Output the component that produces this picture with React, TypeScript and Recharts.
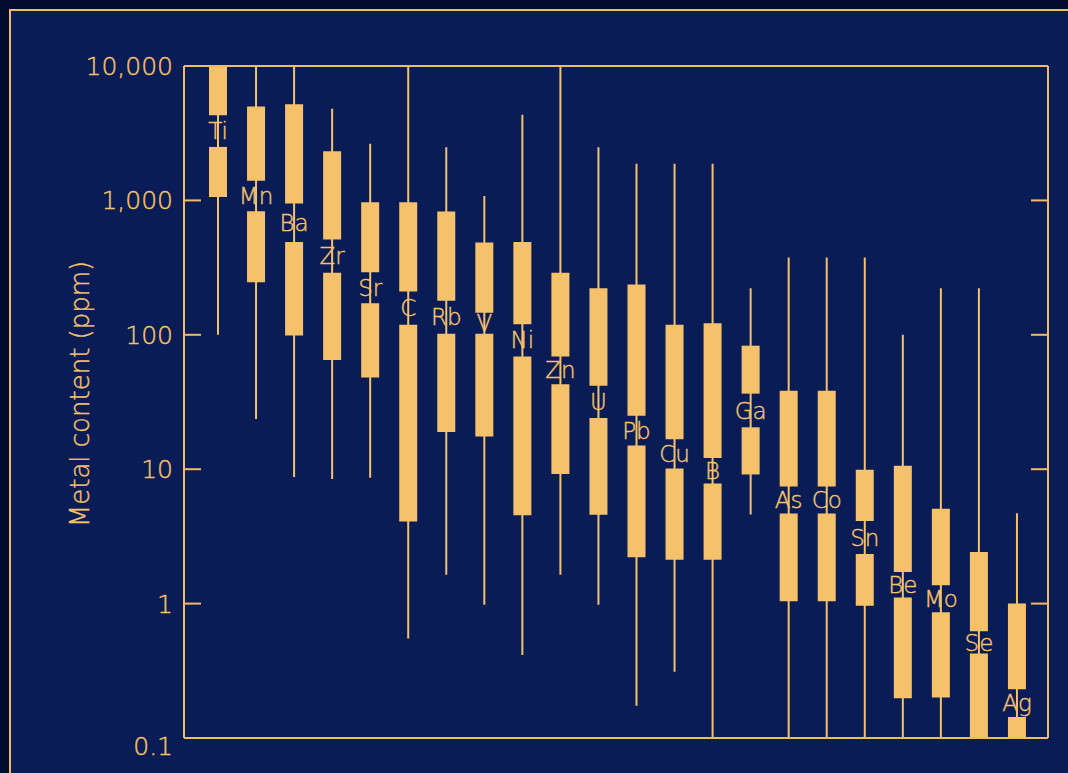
import React from 'react';
import { ComposedChart, Bar, XAxis, YAxis, LabelList, ReferenceLine } from 'recharts';

// metal content ranges (ppm)
const elements = ['Ti', 'Mn', 'Ba', 'Zr', 'Sr', 'C', 'Rb', 'V', 'Ni', 'Zn', 'U', 'Pb', 'Cu', 'B', 'Ga', 'As', 'Co', 'Sn', 'Be', 'Mo', 'Se', 'Ag'];
const rangeMax = [10000, 10000, 10000, 4800, 2640, 10000, 2490, 1080, 4330, 10000, 2490, 1870, 1870, 1870, 222, 376, 376, 376, 100, 222, 222, 4.7];
const boxHigh = [10000, 5000, 5200, 2320, 970, 970, 826, 486, 490, 289, 222, 237, 119, 122, 83, 38.4, 38.4, 9.9, 10.6, 5.07, 2.42, 1.0];
const splitHigh = [4300, 1400, 950, 511, 292, 210, 179, 146, 120, 69, 41.7, 25, 16.7, 12.1, 36.5, 7.42, 7.42, 4.11, 1.72, 1.37, 0.624, 0.231];
const splitLow = [2500, 830, 491, 289, 172, 119, 102, 102, 69, 42.9, 24, 15, 10.1, 7.82, 20.5, 4.68, 4.68, 2.34, 1.11, 0.862, 0.425, 0.143];
const boxLow = [1060, 246, 99, 65, 48.2, 4.09, 18.9, 17.5, 4.55, 9.23, 4.58, 2.21, 2.12, 2.12, 9.14, 1.04, 1.04, 0.965, 0.198, 0.2, 0.1, 0.1];
const rangeMin = [100, 23.6, 8.75, 8.44, 8.65, 0.55, 1.64, 0.98, 0.415, 1.64, 0.98, 0.174, 0.311, 0.1, 4.6, 0.1, 0.1, 0.1, 0.1, 0.1, 0.1, 0.1];

const yTicks = [0.1, 1, 10, 100, 1000, 10000];
const innerTicks = [1, 10, 100, 1000];

const GOLD = '#f5c26b';
const LINE = '#f2bb63';
const NAVY = '#0a1c56';
const FONT = '"DejaVu Sans", "Noto Sans", sans-serif';

const fmt = (v: number) => (v < 1 ? String(v) : v.toLocaleString('en-US'));

const LeftTick = (props: any) => {
  const { x, y, payload } = props;
  const v = payload.value;
  return (
    <text
      x={x}
      y={Number(y) + (v === 0.1 ? 8 : 0)}
      dy="0.36em"
      textAnchor="end"
      fill={GOLD}
      stroke={GOLD}
      strokeWidth={0.4}
      fontSize={25}
      fontFamily={FONT}
      fontWeight={200}
    >
      {fmt(v)}
    </text>
  );
};

// short inward marks at both ends of the plot box
const TickPair = (props: any) => {
  const x1 = Number(props.x1);
  const x2 = Number(props.x2);
  const y = Number(props.y1);
  return (
    <g>
      <line x1={x1} x2={x1 + 17} y1={y} y2={y} stroke={LINE} strokeWidth={2} />
      <line x1={x2 - 17} x2={x2} y1={y} y2={y} stroke={LINE} strokeWidth={2} />
    </g>
  );
};

const AxisTitle = (props: any) => {
  const vb = props.viewBox || { x: 0, y: 66, width: 184, height: 672 };
  const cx = vb.x + 80;
  const cy = vb.y + vb.height / 2 - 8;
  return (
    <text
      x={cx}
      y={cy}
      dy="0.36em"
      textAnchor="middle"
      fill={GOLD}
      stroke={GOLD}
      strokeWidth={0.4}
      fontSize={26}
      fontFamily={FONT}
      fontWeight={200}
      transform={`rotate(-90, ${cx}, ${cy})`}
    >
      Metal content (ppm)
    </text>
  );
};

export default function App() {
  const data = elements.map((name, i) => ({
    name,
    min: rangeMin[i],
    max: rangeMax[i],
    boxHigh: boxHigh[i],
    splitHigh: splitHigh[i],
    splitLow: splitLow[i],
    boxLow: boxLow[i],
  }));

  const pad = { left: 15, right: 12 };
  const edge = { stroke: LINE, strokeWidth: 2 };

  return (
    <div style={{ position: 'fixed', left: 0, top: 0, width: 1068, height: 773, background: '#030c2e', overflow: 'hidden' }}>
      <div
        style={{
          position: 'absolute',
          left: 9,
          top: 9,
          width: 1100,
          height: 800,
          borderLeft: `2px solid ${LINE}`,
          borderTop: `2px solid ${LINE}`,
          background: NAVY,
        }}
      />
      <div style={{ position: 'absolute', left: 0, top: 0 }}>
        <ComposedChart width={1068} height={773} data={data} margin={{ top: 65, right: 19, bottom: 35, left: 0 }}>
          <XAxis xAxisId="w" dataKey="name" type="category" padding={pad} hide />
          <XAxis xAxisId="top" dataKey="name" type="category" orientation="top" padding={pad} height={1} tick={false} tickLine={false} axisLine={edge} />
          <XAxis xAxisId="u" dataKey="name" type="category" padding={pad} hide />
          <XAxis xAxisId="l" dataKey="name" type="category" padding={pad} hide />
          <XAxis xAxisId="g" dataKey="name" type="category" padding={pad} hide />
          <YAxis
            yAxisId="left"
            scale="log"
            domain={[0.1, 10000]}
            ticks={yTicks}
            allowDataOverflow
            width={184}
            tickSize={0}
            tickMargin={11}
            tickLine={false}
            tick={<LeftTick />}
            axisLine={edge}
            label={<AxisTitle />}
          />
          <YAxis
            yAxisId="right"
            orientation="right"
            scale="log"
            domain={[0.1, 10000]}
            ticks={yTicks}
            allowDataOverflow
            width={1}
            tickLine={false}
            tick={false}
            axisLine={edge}
          />
          <ReferenceLine xAxisId="w" yAxisId="left" y={0.1} stroke={LINE} strokeWidth={2} />
          {innerTicks.map((t) => (
            <ReferenceLine key={t} xAxisId="w" yAxisId="left" y={t} shape={<TickPair />} />
          ))}
          <Bar xAxisId="w" yAxisId="left" dataKey={(d: any) => [d.min, d.max]} barSize={2} fill={GOLD} isAnimationActive={false} />
          <Bar xAxisId="u" yAxisId="left" dataKey={(d: any) => [d.splitHigh, d.boxHigh]} barSize={18} fill={GOLD} isAnimationActive={false} />
          <Bar xAxisId="l" yAxisId="left" dataKey={(d: any) => [d.boxLow, d.splitLow]} barSize={18} fill={GOLD} isAnimationActive={false} />
          <Bar xAxisId="g" yAxisId="left" dataKey={(d: any) => [d.splitLow, d.splitHigh]} barSize={18} fill="transparent" isAnimationActive={false}>
            <LabelList dataKey="name" position="center" fill={GOLD} stroke={GOLD} strokeWidth={0.4} fontSize={23} fontFamily={FONT} fontWeight={200} />
          </Bar>
        </ComposedChart>
      </div>
    </div>
  );
}
